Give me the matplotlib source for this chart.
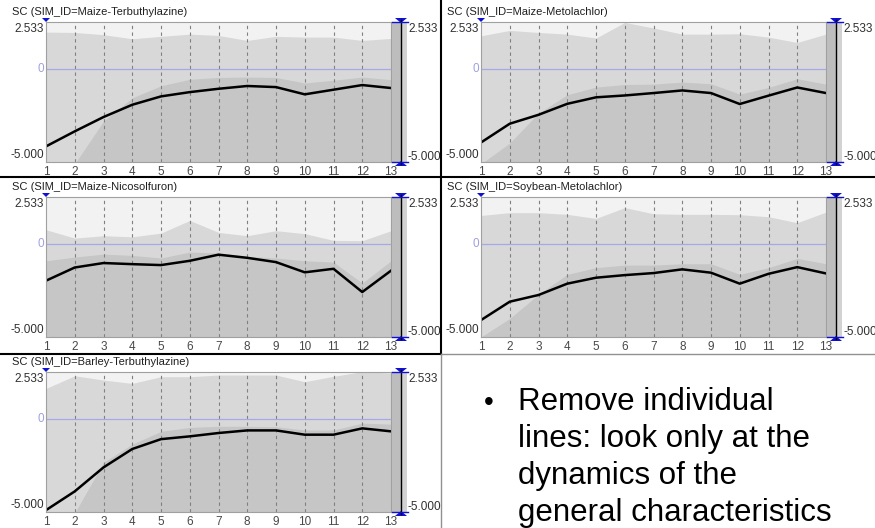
import numpy as np
import matplotlib.pyplot as plt
from matplotlib.patches import Polygon, Rectangle

plt.rcParams['font.family'] = ['Liberation Sans', 'DejaVu Sans']

W, H = 875, 528

steps = list(range(1, 14))
y_top, y_bottom = 2.533, -5.000

titles = [
    'SC (SIM_ID=Maize-Terbuthylazine)',
    'SC (SIM_ID=Maize-Metolachlor)',
    'SC (SIM_ID=Maize-Nicosolfuron)',
    'SC (SIM_ID=Soybean-Metolachlor)',
    'SC (SIM_ID=Barley-Terbuthylazine)',
]

# mean curve of each simulation set
mean_terb_maize = [-4.16, -3.35, -2.58, -1.92, -1.47, -1.24, -1.06, -0.91, -0.97, -1.36, -1.11, -0.86, -1.02]
mean_meto_maize = [-3.95, -2.94, -2.46, -1.87, -1.52, -1.42, -1.29, -1.15, -1.29, -1.88, -1.43, -0.99, -1.29]
mean_nico_maize = [-1.97, -1.26, -1.02, -1.08, -1.13, -0.90, -0.57, -0.74, -0.97, -1.52, -1.33, -2.58, -1.43]
mean_meto_soy = [-4.09, -3.10, -2.74, -2.13, -1.81, -1.67, -1.56, -1.36, -1.54, -2.13, -1.60, -1.24, -1.58]
mean_terb_barley = [-4.90, -3.89, -2.60, -1.61, -1.08, -0.93, -0.75, -0.61, -0.61, -0.84, -0.84, -0.50, -0.66]

# upper edge of the full range band
max_terb_maize = [1.99, 1.97, 1.85, 1.63, 1.76, 1.88, 1.81, 1.54, 1.76, 1.72, 1.72, 1.54, 1.65]
max_meto_maize = [1.79, 2.08, 1.97, 1.88, 1.67, 2.51, 2.21, 1.88, 1.88, 1.90, 1.72, 1.43, 1.88]
max_nico_maize = [0.77, 0.32, 0.45, 0.39, 0.59, 1.27, 0.63, 0.45, 0.72, 0.56, 0.20, 0.18, 0.72]
max_meto_soy = [1.54, 1.69, 1.69, 1.60, 1.38, 1.96, 1.63, 1.60, 1.60, 1.58, 1.47, 1.15, 1.72]
max_terb_barley = [1.65, 2.33, 2.10, 1.92, 2.28, 2.28, 2.37, 2.37, 2.37, 2.01, 2.30, 2.55, 2.48]

# upper edge of the inner band
q_terb_maize = [-6.50, -5.10, -2.80, -1.55, -0.90, -0.55, -0.45, -0.43, -0.45, -0.75, -0.60, -0.43, -0.57]
q_meto_maize = [-5.10, -3.98, -2.37, -1.38, -0.97, -0.83, -0.81, -0.70, -0.79, -1.35, -0.99, -0.52, -0.81]
q_nico_maize = [-0.90, -0.70, -0.54, -0.61, -0.75, -0.43, -0.48, -0.66, -0.75, -0.90, -0.97, -2.10, -0.90]
q_meto_soy = [-5.00, -4.00, -2.71, -1.63, -1.27, -1.13, -1.13, -1.06, -1.06, -1.63, -1.27, -0.77, -1.06]
q_terb_barley = [-6.50, -5.05, -2.33, -1.35, -0.66, -0.45, -0.39, -0.39, -0.41, -0.59, -0.59, -0.22, -0.27]

means = [mean_terb_maize, mean_meto_maize, mean_nico_maize, mean_meto_soy, mean_terb_barley]
maxes = [max_terb_maize, max_meto_maize, max_nico_maize, max_meto_soy, max_terb_barley]
inner = [q_terb_maize, q_meto_maize, q_nico_maize, q_meto_soy, q_terb_barley]

bullet_lines = ['Remove individual', 'lines: look only at the',
                'dynamics of the', 'general characteristics']

fig = plt.figure(figsize=(W / 100, H / 100), dpi=100)
fig.patch.set_facecolor('white')


def px_axes(left, top, right, bottom):
    return fig.add_axes([left / W, 1 - bottom / H, (right - left) / W, (bottom - top) / H])


col_left = [46, 481]
col_right = [391, 826]
row_top = [22, 197, 372]
row_h = 140

overlay = fig.add_axes([0, 0, 1, 1], zorder=5)
overlay.set_xlim(0, W)
overlay.set_ylim(H, 0)
overlay.axis('off')

blue = '#1010d0'
for i in range(5):
    col, row = i % 2, i // 2
    L, R = col_left[col], col_right[col]
    T = row_top[row]
    B = T + row_h
    ax = px_axes(L, T, R, B)
    ax.set_facecolor('#f2f2f2')
    x = np.array(steps)
    ax.fill_between(x, -7, maxes[i], color='#d8d8d8', lw=0)
    ax.fill_between(x, -7, inner[i], color='#c6c6c6', lw=0)
    for s in steps[1:-1]:
        ax.axvline(s, color='#808080', lw=0.8, ls=(0, (3, 3)))
    ax.axhline(0, color='#a8a8e8', lw=0.9)
    ax.plot(x, means[i], color='black', lw=1.8)
    ax.set_xlim(1, 13)
    ax.set_ylim(y_bottom, y_top)
    ax.set_xticks(steps)
    ax.set_xticklabels([str(s) for s in steps], fontsize=8.5, color='#484848')
    ax.tick_params(axis='x', length=0, pad=3)
    ax.set_yticks([])
    for sp in ax.spines.values():
        sp.set_color('#a0a0a0')
        sp.set_linewidth(0.8)

    # left value labels
    ax.text(-0.006, 0.99, '2.533', transform=ax.transAxes, ha='right', va='top',
            fontsize=8.5, color='#303030')
    ax.text(-0.006, 0.01, '-5.000', transform=ax.transAxes, ha='right', va='bottom',
            fontsize=8.5, color='#303030')
    z = (0 - y_bottom) / (y_top - y_bottom)
    ax.text(-0.006, z, '0', transform=ax.transAxes, ha='right', va='center',
            fontsize=8.5, color='#a0a0e0')

    # panel title
    overlay.text(L - 34, T - 10, titles[i], fontsize=8, color='#202020',
                 ha='left', va='center')

    # scroll bar on the right
    overlay.add_patch(Rectangle((R + 1, T), 9, row_h, color='#bdbdbd', lw=0))
    overlay.add_patch(Rectangle((R + 10, T), 6, row_h, color='#d2d2d2', lw=0))
    overlay.plot([R + 10, R + 10], [T - 2, B + 2], color='black', lw=1)
    overlay.plot([R + 1, R + 17], [T, T], color=blue, lw=1)
    overlay.plot([R + 1, R + 17], [B, B], color=blue, lw=1)
    overlay.add_patch(Polygon([(R + 4, T - 4), (R + 16, T - 4), (R + 10, T + 1)],
                              color=blue, lw=0))
    overlay.add_patch(Polygon([(R + 4, B + 4), (R + 16, B + 4), (R + 10, B - 1)],
                              color=blue, lw=0))
    overlay.add_patch(Polygon([(L - 4, T - 4), (L + 4, T - 4), (L, T)],
                              color=blue, lw=0))
    overlay.text(R + 17, T + 7, '2.533', fontsize=8.5, color='#303030', ha='left', va='center')
    overlay.text(R + 17, B - 5, '-5.000', fontsize=8.5, color='#303030', ha='left', va='center')

# panel dividers
overlay.plot([441, 441], [0, 354], color='black', lw=1.5)
overlay.plot([0, W], [177, 177], color='black', lw=1.5)
overlay.plot([0, 441], [354, 354], color='black', lw=1.5)
overlay.plot([441, W], [354, 354], color='#909090', lw=1)
overlay.plot([441, 441], [354, H], color='#909090', lw=1)

# bullet note
overlay.text(484, 410, '\u2022', fontsize=20, ha='left', va='baseline', color='black')
for k, line in enumerate(bullet_lines):
    overlay.text(518, 410 + 37 * k, line, fontsize=22.5, ha='left', va='baseline',
                 color='black')

fig.savefig('out.png', dpi=100)
